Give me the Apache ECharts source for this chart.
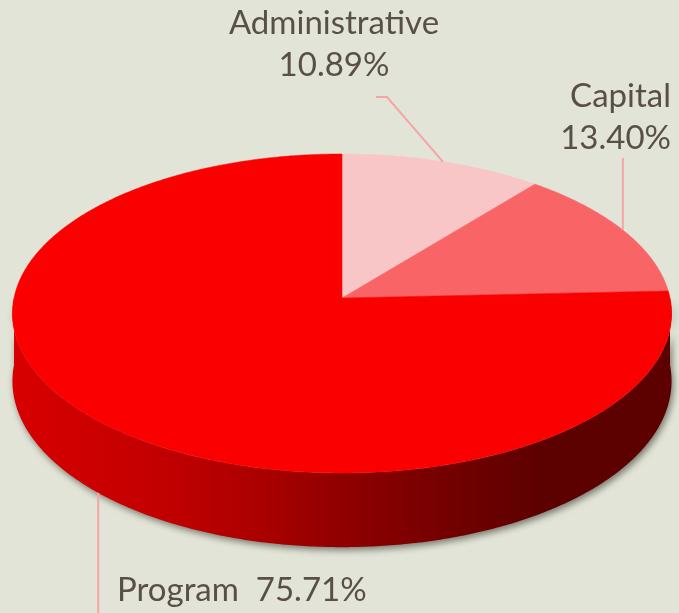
<!DOCTYPE html>
<html><head><meta charset="utf-8">
<script src="https://cdn.jsdelivr.net/npm/echarts@6/dist/echarts.min.js"></script>
<style>html,body{margin:0;padding:0;background:#e3e4d8;}#c{width:679px;height:613px;}</style>
</head><body><div id="c"></div>
<script>
const categories = ['Administrative', 'Capital', 'Program'];
const values = [10.89, 13.40, 75.71];
const topColors = ['#f9c6c7', '#f96566', '#fb0000'];

// geometry of the projected 3D disc
const CX = 342, CY = 298, S = 328, T = 158, K = 0.097, H = 67;
const total = values.reduce((a, b) => a + b, 0);
const cum = [];
values.reduce((a, v, i) => { cum[i] = a; return a + v; }, 0);

function proj(th, down) {
  const X = Math.sin(th), Z = Math.cos(th), w = 1 + K * Z;
  return [CX + S * X / w, CY - T * Z / w + (down || 0) / w];
}
function arc(a, b, down) {
  const pts = [], n = Math.max(2, Math.ceil(Math.abs(b - a) / 0.01));
  for (let j = 0; j <= n; j++) pts.push(proj(a + (b - a) * j / n, down));
  return pts;
}
function angles(i) {
  return [cum[i] / total * Math.PI * 2, (cum[i] + values[i]) / total * Math.PI * 2];
}

const sideGrad = new echarts.graphic.LinearGradient(10, 0, 545, 0, [
  { offset: 0, color: '#d80000' },
  { offset: 0.26, color: '#c40000' },
  { offset: 0.45, color: '#ae0000' },
  { offset: 0.62, color: '#900000' },
  { offset: 0.8, color: '#760000' },
  { offset: 1, color: '#5c0000' }
], true);

// label layout (positions only)
const labelLayout = [
  { lines: [categories[0], '10.89%'], x: 334, y: [23, 65], align: 'center',
    leader: (p) => [[376, 97], [387, 97], p], atBottom: false },
  { lines: [categories[1], '13.40%'], x: 671, y: [96, 138], align: 'right',
    leader: (p) => [[p[0], 158], p], atBottom: false },
  { lines: [categories[2] + '  75.71%'], x: 117, y: [590], align: 'left',
    leader: (p) => [p, [p[0], 613]], atBottom: true }
];

const data = values.map((v, i) => ({ name: categories[i], value: v }));
const FONT = '33px Lato';
const TXT = '#594f49';

const option = {
  backgroundColor: '#e3e4d8',
  animation: false,
  series: [
    { type: 'custom', coordinateSystem: 'none', z: 1, data: data,
      renderItem: function (params, api) {
        const i = params.dataIndex;
        let [a, b] = angles(i);
        a = Math.max(a, Math.PI / 2); b = Math.min(b, Math.PI * 1.5);
        if (b <= a) return { type: 'group', children: [] };
        const top = arc(a, b, 0), bot = arc(b, a, H);
        return { type: 'polygon', shape: { points: top.concat(bot) },
          style: { fill: sideGrad, shadowBlur: 7, shadowOffsetX: 2, shadowOffsetY: 3,
                   shadowColor: 'rgba(30,30,20,0.55)' } };
      } },
    { type: 'custom', coordinateSystem: 'none', z: 2, data: data,
      renderItem: function (params, api) {
        const i = params.dataIndex;
        const [a, b] = angles(i);
        const pts = [[CX, CY]].concat(arc(a, b, 0));
        return { type: 'polygon', shape: { points: pts },
          style: { fill: topColors[i], stroke: topColors[i], lineWidth: 0.5 } };
      } },
    { type: 'custom', coordinateSystem: 'none', z: 3, data: data,
      renderItem: function (params, api) {
        const i = params.dataIndex;
        const [a, b] = angles(i);
        const L = labelLayout[i];
        const mid = (a + b) / 2;
        const p = proj(mid, L.atBottom ? H : 0);
        const children = [{ type: 'polyline', shape: { points: L.leader(p) },
          style: { stroke: '#f6a4a4', lineWidth: 2, fill: null } }];
        L.lines.forEach((t, k) => children.push({ type: 'text',
          style: { text: t, x: L.x, y: L.y[k], align: L.align, verticalAlign: 'middle',
                   font: FONT, fill: TXT } }));
        return { type: 'group', children: children };
      } }
  ]
};
const chart = echarts.init(document.getElementById('c'));
chart.setOption(option);
</script></body></html>
